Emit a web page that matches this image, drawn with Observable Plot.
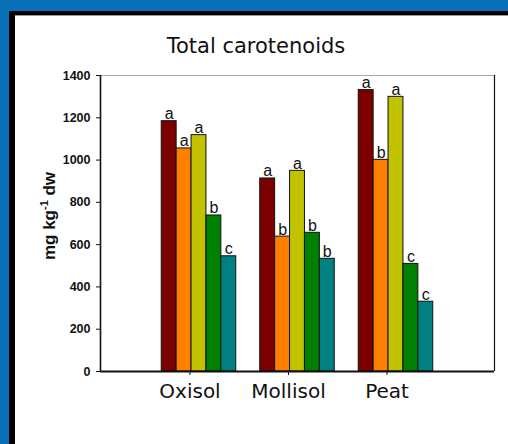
<!DOCTYPE html>
<html>
<head>
<meta charset="utf-8">
<script src="https://cdn.jsdelivr.net/npm/d3@7"></script>
<script src="https://cdn.jsdelivr.net/npm/@observablehq/plot@0.6"></script>
<style>
  html, body { margin: 0; padding: 0; background: #fff; }
  #frame { position: relative; width: 508px; height: 444px; background: #0870b8; overflow: hidden; }
  #black { position: absolute; left: 9px; top: 11px; right: 0; bottom: 0; background: #000; }
  #white { position: absolute; left: 15px; top: 15px; right: 0; bottom: 0; background: #fff; border-top: 1px solid #9a9a9a; }
  #title { position: absolute; left: 56px; top: 16px; width: 400px; text-align: center;
           font: 21px "DejaVu Sans", sans-serif; line-height: 21px; padding-top: 20px; color: #111; }
  #chart { position: absolute; left: 15px; top: 70px; }
  #chart svg { overflow: visible; }
  g[aria-label="x-axis tick label"] text { font-family: "DejaVu Sans", sans-serif; font-size: 20px; fill: #111; }
  g[aria-label="y-axis tick label"] text { font-family: "Liberation Sans", Arial, sans-serif; font-size: 12.5px; font-weight: bold; fill: #111; }
</style>
</head>
<body>
<div id="frame">
  <div id="black"></div>
  <div id="white"></div>
  <div id="title">Total carotenoids</div>
  <div id="chart"></div>
</div>
<script>
// Soil types (groups) and the five treatments (bar colours, unnamed in the figure)
const groups = ["Oxisol", "Mollisol", "Peat"];
const treatments = ["T1", "T2", "T3", "T4", "T5"];
const palette = ["#7d0000", "#ff8000", "#c2c200", "#008000", "#008080"];

// Values (mg kg-1 dw) per treatment, in group order
const t1 = [1184, 913, 1331];
const t2 = [1055, 638, 1001];
const t3 = [1118, 949, 1299];
const t4 = [738, 656, 509];
const t5 = [545, 533, 330];

// Significance letters per treatment, in group order
const t1Letters = ["a", "a", "a"];
const t2Letters = ["a", "b", "b"];
const t3Letters = ["a", "a", "a"];
const t4Letters = ["b", "b", "c"];
const t5Letters = ["c", "b", "c"];

const yTicks = [0, 200, 400, 600, 800, 1000, 1200, 1400];

const seriesValues = [t1, t2, t3, t4, t5];
const seriesLetters = [t1Letters, t2Letters, t3Letters, t4Letters, t5Letters];

const rows = [];
treatments.forEach((t, i) => {
  groups.forEach((g, j) => {
    rows.push({group: g, treatment: t, gi: j + 1, ti: i, value: seriesValues[i][j], letter: seriesLetters[i][j]});
  });
});

const bw = 0.1513; // bar width in group units
const left = d => d.gi + (d.ti - 2.5) * bw;

const chart = Plot.plot({
  width: 493,
  height: 374,
  marginLeft: 85,
  marginRight: 14,
  marginTop: 5,
  marginBottom: 73,
  style: {background: "transparent", color: "#111", fontFamily: "Liberation Sans, Arial, sans-serif"},
  x: {domain: [0, 4]},
  y: {domain: [0, 1400]},
  color: {domain: treatments, range: palette},
  marks: [
    Plot.ruleY([1400], {stroke: "#a8a8a8", strokeWidth: 1}),
    Plot.ruleX([4], {stroke: "#111", strokeWidth: 1.2}),
    Plot.rect(rows, {
      x1: left,
      x2: d => left(d) + bw,
      y1: 0,
      y2: "value",
      fill: "treatment",
      stroke: "#111",
      strokeWidth: 1
    }),
    Plot.text(rows, {
      x: d => left(d) + bw / 2,
      y: "value",
      text: "letter",
      lineAnchor: "bottom",
      dy: -2,
      fontSize: 16,
      fontFamily: "Liberation Sans Narrow, Liberation Sans, Arial, sans-serif",
      fill: "#111"
    }),
    Plot.axisY({ticks: yTicks, tickFormat: d => String(d), tickSize: 4, tickPadding: 6, label: null}),
    Plot.axisX({ticks: [1, 2, 3], tickFormat: i => groups[i - 1], tickSize: 4, tickPadding: 8, dx: -9, label: null}),
    Plot.ruleX([0], {stroke: "#111", strokeWidth: 1.6}),
    Plot.ruleY([0], {stroke: "#111", strokeWidth: 2})
  ]
});

document.getElementById("chart").appendChild(chart);

// Y-axis title with superscript
const svg = d3.select(chart);
const lab = svg.append("text")
  .attr("transform", "translate(40,146) rotate(-90)")
  .attr("text-anchor", "middle")
  .attr("fill", "#111")
  .style("font-family", "Liberation Sans, Arial, sans-serif")
  .style("font-weight", "bold")
  .style("font-size", "17px");
lab.append("tspan").text("mg kg");
lab.append("tspan").attr("dy", -7).style("font-size", "11px").text("-1");
lab.append("tspan").attr("dy", 7).text(" dw");
</script>
</body>
</html>
